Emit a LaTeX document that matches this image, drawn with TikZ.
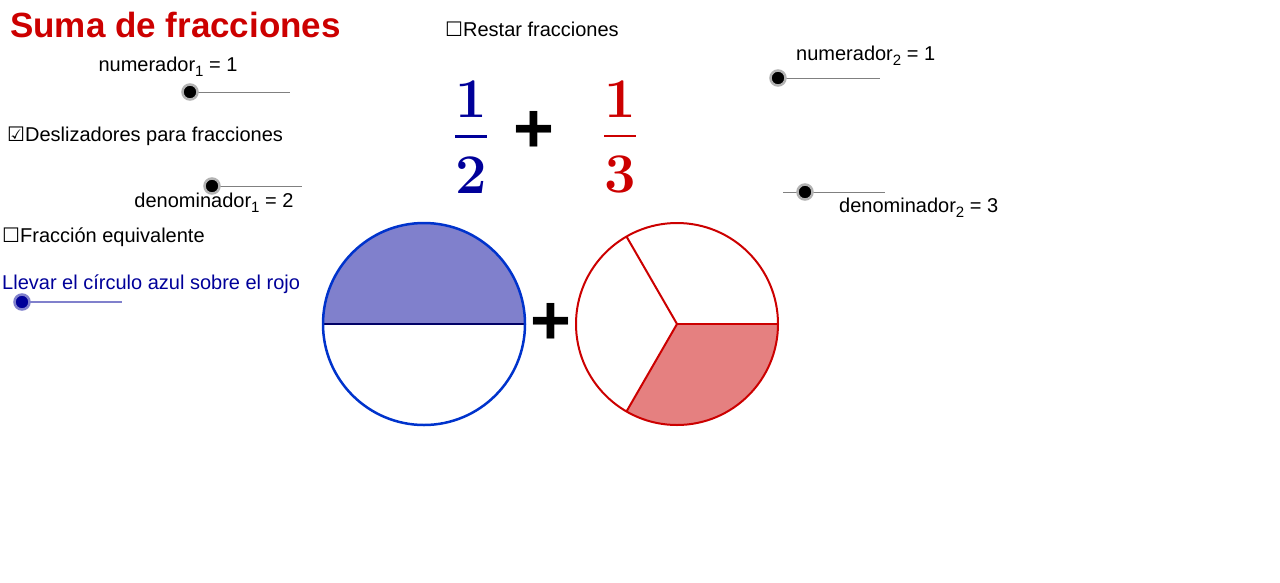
\documentclass[tikz,border=0pt]{standalone}
\usepackage{amsmath}
\usepackage{fontspec}
\setmainfont{Liberation Sans}
\newfontfamily\symfont{DejaVu Sans}
\newfontfamily\lmfont{Latin Modern Roman}
\usetikzlibrary{positioning}
\definecolor{titlered}{RGB}{204,0,0}
\definecolor{fracblue}{RGB}{0,0,153}
\definecolor{ringblue}{RGB}{0,51,204}
\definecolor{fillblue}{RGB}{128,128,204}
\definecolor{fillred}{RGB}{229,128,128}
\definecolor{navy}{RGB}{0,0,102}
\newcommand{\sub}[1]{\raisebox{-5pt}{\fontsize{15}{15}\selectfont #1}}
\newcommand{\fracnum}[2]{$\genfrac{}{}{2.5pt}{0}%
  {\hbox{\lmfont\bfseries #1}\rule[-10pt]{0pt}{1pt}}%
  {\rule{0pt}{48pt}\hbox{\lmfont\bfseries #2}}$}
\tikzset{
  x=1pt, y=-1pt,
  lbl/.style={font=\fontsize{20}{22}\selectfont, inner sep=0pt},
  frac/.style={font=\fontsize{56}{60}\selectfont, inner sep=0pt},
  track/.style={draw=gray, line width=0.6pt},
  knob/.style={circle, fill=black, draw=gray!60, line width=2.5pt,
    minimum size=15pt, inner sep=0pt},
}
\begin{document}
\begin{tikzpicture}
  \useasboundingbox (0,0) rectangle (1280,582);
  %% title and options
  \node[lbl, anchor=west, text=titlered,
    font=\fontsize{35}{38}\selectfont\bfseries] (title) at (10,25)
    {Suma de fracciones};
  \node[lbl, anchor=west] (restar) at (445,29)
    {{\symfont ☐}Restar fracciones};
  \node[lbl, anchor=west] (deslizadores) at (7,136)
    {{\symfont ☑}Deslizadores para fracciones};
  \node[lbl, anchor=west] (equivalente) at (2,237)
    {{\symfont ☐}Fracción equivalente};
  \node[lbl, anchor=west, text=fracblue] (llevar) at (2,284)
    {Llevar el círculo azul sobre el rojo};
  %% sliders
  \node[lbl] (num1) at (168,67) {numerador\sub{1} = 1};
  \draw[track] (190,92) -- (290,92);
  \node[knob] (knobA) at (190,92) {};
  \node[lbl] (den1) at (214,203) {denominador\sub{1} = 2};
  \draw[track] (212,186) -- (302,186);
  \node[knob] (knobB) at (212,186) {};
  \draw[draw=fillblue, line width=1.5pt] (22,302) -- (122,302);
  \node[knob, fill=fracblue, draw=fillblue] (knobC) at (22,302) {};
  \node[lbl, anchor=west] (num2) at (796,56) {numerador\sub{2} = 1};
  \draw[track] (778,78) -- (880,78);
  \node[knob] (knobD) at (778,78) {};
  \node[lbl, anchor=west] (den2) at (839,208) {denominador\sub{2} = 3};
  \draw[track] (783,192) -- (885,192);
  \node[knob] (knobE) at (805,192) {};
  %% fractions
  \node[frac, text=fracblue] (fracA) at (471,137) {\fracnum{1}{2}};
  \node[frac, font=\fontsize{70}{70}\selectfont\bfseries] (plusA) at (534,132) {+};
  \node[frac, text=titlered] (fracB) at (620,137) {\fracnum{1}{3}};
  %% circles
  \fill[fillblue] (323,324) arc[start angle=180, end angle=360, radius=101] -- cycle;
  \draw[navy, line width=2.5pt] (323,324) -- (525,324);
  \draw[ringblue, line width=2.5pt] (424,324) circle[radius=101];
  \node[frac, font=\fontsize{70}{70}\selectfont\bfseries] (plusB) at (551,324) {+};
  \fill[fillred] (677,324) -- (778,324)
    arc[start angle=0, end angle=120, radius=101] -- cycle;
  \draw[titlered, line width=2pt] (677,324) circle[radius=101];
  \foreach \a in {0,120,240}
    \draw[titlered, line width=2pt] (677,324) -- ++(\a:101);
\end{tikzpicture}
\end{document}
